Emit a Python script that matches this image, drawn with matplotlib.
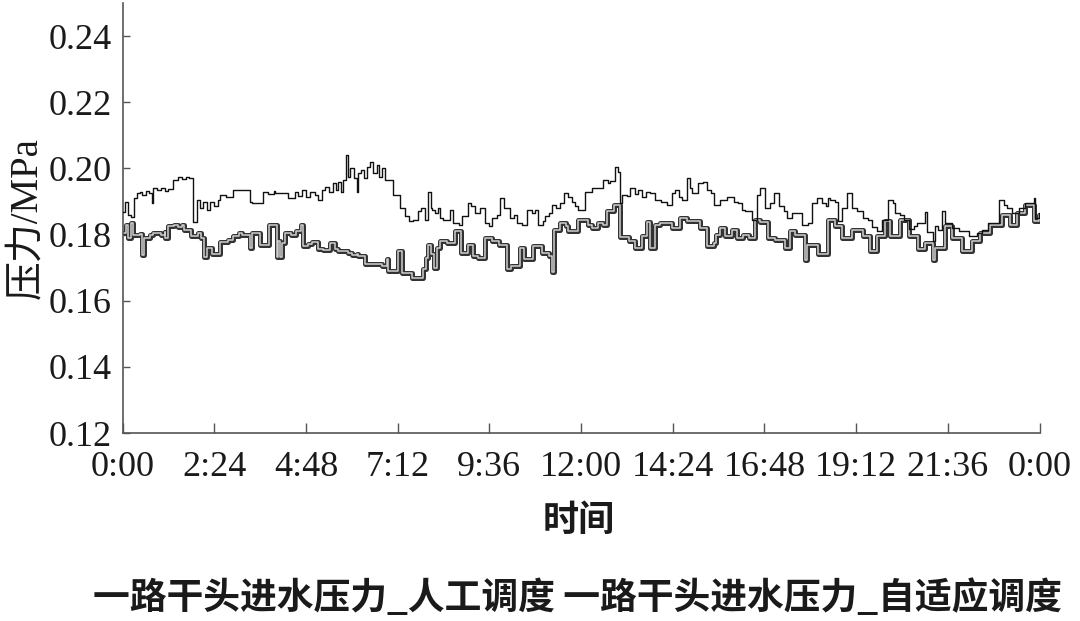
import matplotlib
matplotlib.use("Agg")
import matplotlib.pyplot as plt
import matplotlib.patheffects as pe

# ---- data ----
manual_t = [0.00, 0.06, 0.13, 0.22, 0.29, 0.37, 0.45, 0.52, 0.60, 0.68, 0.76, 0.80, 0.90, 1.00, 1.10, 1.20,
            1.33, 1.46, 1.55, 1.65, 1.75, 1.85, 1.94, 2.02, 2.10, 2.20, 2.30, 2.40, 2.50, 2.55, 2.70, 2.90,
            3.33, 3.38, 3.68, 3.80, 3.95, 4.00, 4.34, 4.51, 4.60, 4.69, 4.80, 4.90, 5.04, 5.12, 5.21, 5.30,
            5.40, 5.50, 5.58, 5.65, 5.72, 5.78, 5.84, 5.89, 5.95, 6.05, 6.13, 6.17, 6.25, 6.33, 6.40, 6.48,
            6.55, 6.65, 6.72, 6.78, 6.87, 7.09, 7.26, 7.39, 7.50, 7.61, 7.74, 7.82, 7.92, 8.00, 8.06, 8.09,
            8.18, 8.26, 8.32, 8.39, 8.57, 8.66, 8.80, 8.88, 9.05, 9.12, 9.22, 9.35, 9.49, 9.58, 9.66, 9.80,
            9.88, 9.97, 10.14, 10.25, 10.32, 10.45, 10.58, 10.71, 10.80, 10.88, 11.00, 11.06, 11.15, 11.23,
            11.35, 11.45, 11.54, 11.65, 11.76, 11.85, 11.93, 12.10, 12.28, 12.58, 12.70, 12.76, 12.89, 12.96,
            13.02, 13.06, 13.20, 13.28, 13.41, 13.50, 13.60, 13.70, 13.81, 13.94, 14.10, 14.24, 14.37, 14.45,
            14.55, 14.65, 14.77, 14.85, 14.90, 15.07, 15.18, 15.29, 15.40, 15.47, 15.64, 15.81, 15.99, 16.10,
            16.21, 16.29, 16.47, 16.60, 16.69, 16.82, 16.95, 17.04, 17.17, 17.30, 17.38, 17.52, 17.78, 17.95,
            18.04, 18.17, 18.30, 18.40, 18.47, 18.52, 18.65, 18.73, 18.82, 18.96, 19.09, 19.22, 19.39, 19.50,
            19.61, 19.74, 19.87, 20.04, 20.15, 20.22, 20.35, 20.44, 20.57, 20.70, 20.79, 21.00, 21.05, 21.22,
            21.27, 21.35, 21.44, 21.53, 21.70, 21.88, 22.14, 22.36, 22.50, 22.66, 22.93, 23.06, 23.15, 23.28,
            23.45, 23.62, 23.86, 23.89, 23.99]
manual_v = [0.1869, 0.1899, 0.1859, 0.1854, 0.1910, 0.1925, 0.1930, 0.1920, 0.1932, 0.1925, 0.1895, 0.1940,
            0.1935, 0.1942, 0.1932, 0.1938, 0.1965, 0.1974, 0.1968, 0.1975, 0.1970, 0.1838, 0.1904, 0.1880,
            0.1898, 0.1875, 0.1900, 0.1885, 0.1905, 0.1920, 0.1915, 0.1935, 0.1900, 0.1897, 0.1930, 0.1922,
            0.1932, 0.1925, 0.1910, 0.1930, 0.1918, 0.1935, 0.1915, 0.1930, 0.1920, 0.1905, 0.1935, 0.1945,
            0.1930, 0.1955, 0.1935, 0.1960, 0.1930, 0.1965, 0.2040, 0.1975, 0.2000, 0.1970, 0.1929, 0.1985,
            0.1995, 0.1970, 0.2005, 0.2020, 0.1985, 0.2010, 0.1975, 0.2000, 0.1965, 0.1920, 0.1880, 0.1855,
            0.1840, 0.1844, 0.1870, 0.1880, 0.1844, 0.1930, 0.1880, 0.1875, 0.1865, 0.1880, 0.1850, 0.1844,
            0.1874, 0.1835, 0.1830, 0.1855, 0.1895, 0.1885, 0.1865, 0.1880, 0.1835, 0.1825, 0.1850, 0.1860,
            0.1912, 0.1880, 0.1850, 0.1858, 0.1835, 0.1828, 0.1875, 0.1865, 0.1875, 0.1830, 0.1840, 0.1855,
            0.1865, 0.1890, 0.1880, 0.1895, 0.1925, 0.1915, 0.1900, 0.1885, 0.1874, 0.1930, 0.1940, 0.1965,
            0.1955, 0.1962, 0.2003, 0.1990, 0.1895, 0.1920, 0.1918, 0.1940, 0.1922, 0.1935, 0.1915, 0.1930,
            0.1925, 0.1905, 0.1900, 0.1890, 0.1925, 0.1935, 0.1915, 0.1905, 0.1970, 0.1940, 0.1925, 0.1955,
            0.1960, 0.1935, 0.1925, 0.1890, 0.1905, 0.1915, 0.1900, 0.1895, 0.1875, 0.1870, 0.1845, 0.1920,
            0.1940, 0.1880, 0.1895, 0.1925, 0.1885, 0.1870, 0.1850, 0.1866, 0.1830, 0.1835, 0.1895, 0.1910,
            0.1895, 0.1885, 0.1910, 0.1905, 0.1900, 0.1840, 0.1880, 0.1925, 0.1880, 0.1870, 0.1850, 0.1845,
            0.1822, 0.1810, 0.1845, 0.1905, 0.1895, 0.1865, 0.1858, 0.1845, 0.1818, 0.1825, 0.1835, 0.1868,
            0.1808, 0.1780, 0.1825, 0.1815, 0.1870, 0.1835, 0.1820, 0.1810, 0.1795, 0.1805, 0.1815, 0.1835,
            0.1904, 0.1890, 0.1880, 0.1865, 0.1880, 0.1897, 0.1910, 0.1850, 0.1866]

adaptive_t = [0.00, 0.10, 0.15, 0.22, 0.28, 0.45, 0.50, 0.55, 0.72, 0.80, 1.00, 1.10, 1.12, 1.20, 1.35, 1.45,
              1.55, 1.60, 1.80, 1.97, 2.05, 2.12, 2.20, 2.33, 2.55, 2.75, 2.90, 3.05, 3.12, 3.33, 3.38, 3.60,
              3.82, 4.05, 4.08, 4.12, 4.17, 4.25, 4.40, 4.55, 4.68, 4.73, 4.86, 4.95, 5.12, 5.25, 5.43, 5.56,
              5.65, 5.90, 6.00, 6.13, 6.17, 6.34, 6.43, 6.50, 6.80, 6.91, 6.95, 7.20, 7.22, 7.31, 7.57, 7.86,
              7.93, 8.00, 8.06, 8.15, 8.22, 8.30, 8.48, 8.70, 8.87, 9.05, 9.18, 9.30, 9.48, 9.66, 9.84, 10.05,
              10.17, 10.41, 10.50, 10.75, 10.97, 11.15, 11.24, 11.30, 11.45, 11.60, 11.67, 11.93, 12.17, 12.28,
              12.45, 12.58, 12.67, 12.85, 12.98, 13.02, 13.25, 13.41, 13.59, 13.72, 13.81, 13.94, 14.07, 14.37,
              14.59, 14.77, 15.12, 15.29, 15.47, 15.52, 15.64, 15.77, 15.95, 16.07, 16.25, 16.40, 16.55, 16.69,
              16.90, 17.08, 17.34, 17.47, 17.60, 17.86, 17.92, 18.21, 18.47, 18.65, 18.82, 19.09, 19.39, 19.56,
              19.74, 19.96, 20.09, 20.35, 20.57, 20.83, 21.00, 21.22, 21.27, 21.53, 21.70, 21.97, 22.23, 22.45,
              22.71, 23.01, 23.23, 23.41, 23.62, 23.86, 23.99]
adaptive_v = [0.1805, 0.1830, 0.1790, 0.1835, 0.1800, 0.1802, 0.1738, 0.1790, 0.1800, 0.1805, 0.1800, 0.1808,
              0.1790, 0.1825, 0.1830, 0.1822, 0.1828, 0.1815, 0.1795, 0.1805, 0.1790, 0.1733, 0.1760, 0.1740,
              0.1778, 0.1785, 0.1795, 0.1805, 0.1800, 0.1760, 0.1805, 0.1770, 0.1830, 0.1733, 0.1780, 0.1733,
              0.1775, 0.1805, 0.1800, 0.1810, 0.1829, 0.1765, 0.1772, 0.1778, 0.1755, 0.1752, 0.1775, 0.1755,
              0.1750, 0.1745, 0.1738, 0.1742, 0.1735, 0.1712, 0.1710, 0.1712, 0.1705, 0.1725, 0.1690, 0.1695,
              0.1750, 0.1684, 0.1668, 0.1695, 0.1730, 0.1770, 0.1740, 0.1700, 0.1760, 0.1780, 0.1775, 0.1810,
              0.1745, 0.1770, 0.1735, 0.1728, 0.1790, 0.1780, 0.1768, 0.1695, 0.1705, 0.1760, 0.1725, 0.1765,
              0.1745, 0.1735, 0.1687, 0.1814, 0.1835, 0.1825, 0.1810, 0.1844, 0.1830, 0.1820, 0.1835, 0.1828,
              0.1870, 0.1890, 0.1890, 0.1793, 0.1780, 0.1760, 0.1795, 0.1838, 0.1760, 0.1830, 0.1835, 0.1820,
              0.1850, 0.1840, 0.1820, 0.1765, 0.1775, 0.1800, 0.1820, 0.1795, 0.1815, 0.1790, 0.1800, 0.1790,
              0.1845, 0.1838, 0.1790, 0.1785, 0.1758, 0.1810, 0.1800, 0.1723, 0.1770, 0.1740, 0.1844, 0.1825,
              0.1790, 0.1815, 0.1795, 0.1750, 0.1795, 0.1840, 0.1795, 0.1845, 0.1795, 0.1755, 0.1775, 0.1723,
              0.1760, 0.1825, 0.1790, 0.1750, 0.1780, 0.1805, 0.1830, 0.1860, 0.1830, 0.1865, 0.1890, 0.1840,
              0.1860]

series_labels = ["一路干头进水压力_人工调度", "一路干头进水压力_自适应调度"]
xtick_hours = [0, 2.4, 4.8, 7.2, 9.6, 12.0, 14.4, 16.8, 19.2, 21.6, 24.0]
xtick_labels = ["0:00", "2:24", "4:48", "7:12", "9:36", "12:00", "14:24", "16:48", "19:12", "21:36", "0:00"]
ytick_vals = [0.12, 0.14, 0.16, 0.18, 0.20, 0.22, 0.24]
ytick_labels = ["0.12", "0.14", "0.16", "0.18", "0.20", "0.22", "0.24"]

# ---- figure ----
serif = ["Liberation Serif", "Noto Sans CJK SC", "DejaVu Serif"]
cjk = ["Noto Sans CJK SC", "DejaVu Sans"]

fig = plt.figure(figsize=(10.8, 6.21), dpi=100)
ax = fig.add_axes([0.1135, 0.3027, 0.8491, 0.6923])

ax.plot(adaptive_t + [24.0], adaptive_v + [adaptive_v[-1]], drawstyle="steps-post",
        color="#cfcfcf", lw=1.1, zorder=2,
        path_effects=[pe.Stroke(linewidth=3.6, foreground="#333333"), pe.Normal()])
ax.plot(manual_t + [24.0], manual_v + [manual_v[-1]], drawstyle="steps-post",
        color="#111111", lw=1.0, zorder=3)

ax.set_xlim(0, 24)
ax.set_ylim(0.12, 0.25)
ax.set_xticks(xtick_hours)
ax.set_xticklabels(xtick_labels, family=serif, fontsize=26)
ax.set_yticks(ytick_vals)
ax.set_yticklabels(ytick_labels, family=serif, fontsize=26)

for s in ["top", "right"]:
    ax.spines[s].set_visible(False)
for s in ["left", "bottom"]:
    ax.spines[s].set_color("#555555")
    ax.spines[s].set_linewidth(1.2)
ax.tick_params(axis="y", direction="in", length=5, width=1, colors="#555555", labelcolor="#1a1a1a", pad=8)
ax.tick_params(axis="x", direction="in", length=7, width=1, colors="#555555", labelcolor="#1a1a1a", pad=13)

ax.set_ylabel("压力/MPa", family=serif, fontsize=28, color="#1a1a1a", labelpad=2)

fig.text(0.536, 1 - 520 / 621, "时间", family=cjk, fontsize=26, fontweight="bold",
         color="#1a1a1a", ha="center", va="center")

fig.text(0.535, 1 - 598 / 621, series_labels[0] + " " + series_labels[1], family=cjk, fontsize=26.5,
         fontweight="bold", color="#1a1a1a", ha="center", va="center")

fig.savefig("out.png", dpi=100)
